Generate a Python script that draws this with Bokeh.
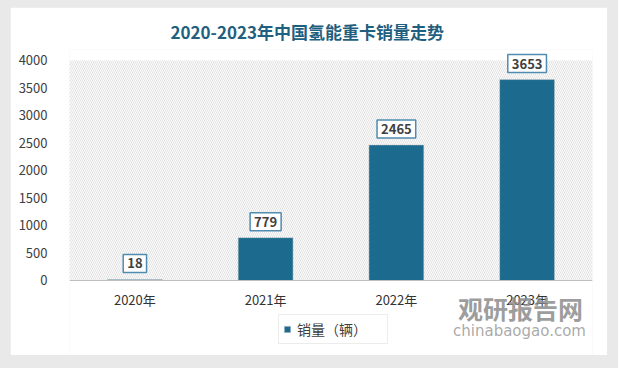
from bokeh.plotting import figure
from bokeh.models import (ColumnDataSource, Label, BoxAnnotation, Legend,
                          LegendItem, FixedTicker, Title, Column)
from bokeh.embed import file_html
from bokeh.resources import INLINE

years = ["2020年", "2021年", "2022年", "2023年"]
sales = [18, 779, 2465, 3653]
y_ticks = [0, 500, 1000, 1500, 2000, 2500, 3000, 3500, 4000]
title_text = "2020-2023年中国氢能重卡销量走势"
series_name = "销量（辆）"
brand_cn = "观研报告网"
brand_en = "chinabaogao.com"

BAR = "#1c6a8d"
FONT = "Noto Sans CJK SC"

src = ColumnDataSource(dict(x=years, y=sales))

p = figure(x_range=years, y_range=(-1364, 4200), width=597, height=348,
           frame_width=523, frame_height=306,
           output_backend="svg", toolbar_location=None,
           min_border_left=59, min_border_right=15, min_border_top=42, min_border_bottom=0,
           border_fill_color="white", background_fill_color="white")
p.outline_line_color = None
p.grid.visible = False

hatch = BoxAnnotation(top=4000, bottom=0, fill_color=None, line_color=None, hatch_pattern="\\",
                      hatch_color="#e0e0e0", hatch_scale=4, hatch_weight=1, level="underlay")
p.add_layout(hatch)

r = p.vbar(x="x", top="y", width=0.42, source=src, fill_color=BAR, line_color="#d0d0d0", line_width=0.5)

for i, v in enumerate(sales):
    p.add_layout(Label(x=i + 0.5, y=v, y_offset=16, text=str(v),
                       text_align="center", text_baseline="middle",
                       text_font=FONT, text_font_size="13px", text_font_style="bold",
                       text_color="#404040", background_fill_color="white",
                       border_line_color="#4f8cb0", border_line_width=1.5, padding=4))

p.yaxis.ticker = FixedTicker(ticks=y_ticks)
p.yaxis.axis_line_color = None
p.yaxis.major_tick_line_color = None
p.yaxis.minor_tick_line_color = None
p.yaxis.major_label_text_font = FONT
p.yaxis.major_label_text_font_size = "13px"
p.yaxis.major_label_text_color = "#404040"
p.yaxis.major_label_standoff = 16

p.xaxis.fixed_location = 0
p.xaxis.axis_line_color = "#bfbfbf"
p.xaxis.major_tick_line_color = None
p.xaxis.minor_tick_line_color = None
p.xaxis.major_label_text_font = FONT
p.xaxis.major_label_text_font_size = "13px"
p.xaxis.major_label_text_color = "#333333"
p.xaxis.major_label_standoff = 4

p.title = Title(text=title_text, align="left", offset=101, text_font=FONT,
                text_font_size="17px", text_font_style="bold", text_color="#1f5f80",
                standoff=12)

p.add_layout(Label(x=451, y=48, x_units="screen", y_units="screen", text=brand_cn,
                   text_align="center", text_baseline="middle", text_font=FONT,
                   text_font_size="25px", text_font_style="bold", text_color="#8c8c8c",
                   text_alpha=0.85))
p.add_layout(Label(x=450, y=25, x_units="screen", y_units="screen", text=brand_en,
                   text_align="center", text_baseline="middle", text_font="DejaVu Sans",
                   text_font_size="15px", text_color="#a0a0a0", text_alpha=0.9))

legend = Legend(items=[LegendItem(label=series_name, renderers=[r])],
                location=(209, 11), orientation="horizontal",
                label_text_font=FONT, label_text_font_size="14px", label_text_color="#404040",
                border_line_color="#d9d9d9", background_fill_color="white",
                glyph_width=8, glyph_height=8, padding=4, label_standoff=6,
                label_width=86, margin=0)
p.add_layout(legend, "center")

layout = Column(children=[p], styles={"background-color": "#e9e9e9",
                                       "padding": "7px 11px 13px 10px"})

open("out.html", "w").write(file_html(layout, INLINE))
